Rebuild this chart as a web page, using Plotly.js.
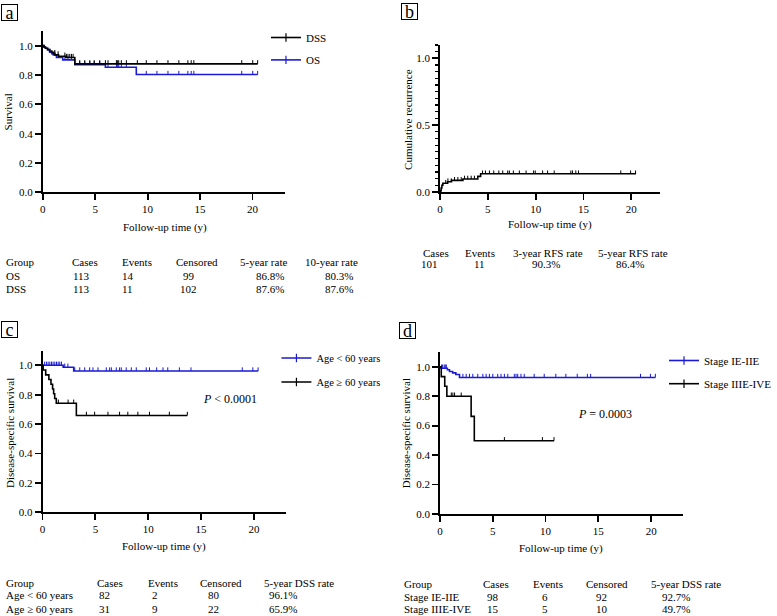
<!DOCTYPE html>
<html><head><meta charset="utf-8">
<script src="https://cdn.plot.ly/plotly-3.0.1.min.js"></script>
<style>html,body{margin:0;padding:0;background:#fff}#chart{width:777px;height:616px}</style>
</head><body><div id="chart"></div>
<script>
// ---------------- DATA ----------------
// Panel a: overall survival and disease-specific survival
const aDssTime = [0, 0.1, 0.25, 0.45, 0.65, 0.85, 1.0, 1.15, 1.5, 2.2, 3.05, 20.5];
const aDssSurv = [1.0, 0.991, 0.982, 0.973, 0.964, 0.955, 0.946, 0.937, 0.928, 0.919, 0.876, 0.876];
const aDssCens = [1.14, 1.46, 2.1, 2.25, 2.4, 2.57, 2.73, 2.89, 3.52, 4.0, 4.48, 4.9, 5.43, 5.97, 6.22, 7.02, 7.11, 7.24, 7.49, 7.97, 9.02, 9.87, 10.89, 11.94, 12.98, 13.84, 14.16, 14.41, 18.98, 20.03, 20.5];
const aOsTime = [0, 0.1, 0.25, 0.45, 0.65, 0.85, 1.0, 1.3, 1.9, 3.05, 5.97, 8.92, 20.5];
const aOsSurv = [1.0, 0.991, 0.982, 0.973, 0.955, 0.946, 0.936, 0.919, 0.903, 0.870, 0.853, 0.803, 0.803];
const aOsCens = [1.14, 1.46, 2.1, 2.4, 2.73, 3.52, 4.0, 4.48, 4.9, 5.43, 6.22, 7.02, 7.11, 7.24, 7.49, 7.97, 9.87, 10.89, 11.94, 12.98, 13.84, 14.16, 14.41, 18.98, 20.03, 20.5];
const aNames = ['DSS', 'OS'];

// Panel b: cumulative recurrence
const bTime = [0, 0.05, 0.12, 0.2, 0.3, 0.8, 1.2, 2.4, 3.95, 4.25, 20.5];
const bCum = [0, 0.01, 0.03, 0.05, 0.065, 0.077, 0.087, 0.097, 0.117, 0.136, 0.136];
const bCens = [0.6, 0.83, 1.18, 1.52, 1.87, 2.22, 2.57, 2.9, 3.26, 3.6, 4.45, 4.75, 5.17, 5.62, 6.15, 6.56, 7.08, 7.25, 7.67, 8.3, 9.0, 9.79, 9.96, 10.73, 11.25, 11.94, 13.68, 13.85, 14.2, 14.48, 18.9, 19.93, 20.45];

// Panel c: DSS by age
const cNames = ['Age &lt; 60 years', 'Age \u2265 60 years'];
const cYoungTime = [0, 1.95, 2.95, 20.4];
const cYoungSurv = [1.0, 0.987, 0.961, 0.961];
const cYoungCens = [0.2, 0.37, 0.53, 0.69, 0.85, 1.0, 1.16, 1.32, 1.48, 1.63, 1.79, 2.1, 2.4, 3.05, 3.52, 3.99, 4.46, 4.77, 5.25, 6.03, 6.35, 6.51, 6.98, 7.29, 7.45, 7.92, 8.4, 8.87, 9.81, 10.12, 10.8, 11.4, 11.85, 12.95, 14.05, 18.9, 19.9, 20.4];
const cOldTime = [0, 0.06, 0.3, 0.6, 0.8, 0.95, 1.05, 1.15, 1.3, 3.2, 13.7];
const cOldSurv = [1.0, 0.968, 0.935, 0.903, 0.871, 0.839, 0.806, 0.774, 0.742, 0.659, 0.659];
const cOldCens = [1.5, 2.42, 2.95, 4.15, 4.93, 6.19, 7.29, 8.07, 9.02, 10.12, 12.0, 13.7];
const cPText = '<i>P</i> &lt; 0.0001';

// Panel d: DSS by stage
const dNames = ['Stage IE-IIE', 'Stage IIIE-IVE'];
const dEarlyTime = [0, 0.1, 0.7, 0.9, 1.2, 1.5, 1.85, 20.4];
const dEarlySurv = [1.0, 0.99, 0.979, 0.968, 0.958, 0.947, 0.927, 0.927];
const dEarlyCens = [0.15, 0.25, 0.4, 0.5, 0.6, 2.17, 2.48, 2.79, 3.11, 3.58, 4.06, 4.37, 4.68, 5.0, 5.47, 5.78, 6.1, 6.42, 7.04, 7.2, 7.36, 7.67, 7.98, 8.92, 9.87, 10.97, 11.92, 13.0, 13.96, 14.27, 18.99, 19.93, 20.4];
const dLateTime = [0, 0.12, 0.45, 0.65, 2.95, 3.25, 10.8];
const dLateSurv = [1.0, 0.933, 0.867, 0.80, 0.663, 0.497, 0.497];
const dLateCens = [1.07, 1.22, 1.38, 2.01, 6.1, 9.7, 10.8];
const dPText = '<i>P</i> = 0.0003';

// Tables
const tabAHeader = ['Group', 'Cases', 'Events', 'Censored', '5-year rate', '10-year rate'];
const tabARows = [['OS', '113', '14', '99', '86.8%', '80.3%'], ['DSS', '113', '11', '102', '87.6%', '87.6%']];
const tabBHeader = ['Cases', 'Events', '3-year RFS rate', '5-year RFS rate'];
const tabBRows = [['101', '11', '90.3%', '86.4%']];
const tabCHeader = ['Group', 'Cases', 'Events', 'Censored', '5-year DSS rate'];
const tabCRows = [['Age &lt; 60 years', '82', '2', '80', '96.1%'], ['Age \u2265 60 years', '31', '9', '22', '65.9%']];
const tabDHeader = ['Group', 'Cases', 'Events', 'Censored', '5-year DSS rate'];
const tabDRows = [['Stage IE-IIE', '98', '6', '92', '92.7%'], ['Stage IIIE-IVE', '15', '5', '10', '49.7%']];

const xTickVals = [0, 5, 10, 15, 20];
const xTitle = 'Follow-up time (y)';

// ---------------- HELPERS ----------------
const W = 777, H = 616;
const FONT = 'Liberation Serif, Times New Roman, serif';
const BLACK = '#000000', BLUE = '#1a1ad6';
const px = v => v / W;
const py = v => 1 - v / H;

function stepAt(times, vals, t) {
  let v = vals[0];
  for (let i = 0; i < times.length; i++) if (times[i] <= t) v = vals[i];
  return v;
}
function kmTrace(times, vals, color, xa, ya) {
  return {type: 'scatter', mode: 'lines', x: times, y: vals, xaxis: xa, yaxis: ya,
    line: {shape: 'hv', color: color, width: 1.6}, showlegend: false, hoverinfo: 'skip'};
}
function censTrace(times, vals, cens, color, xa, ya, h) {
  const xs = [], ys = [];
  cens.forEach(t => { const v = stepAt(times, vals, t); xs.push(t, t, null); ys.push(v, v + h, null); });
  return {type: 'scatter', mode: 'lines', x: xs, y: ys, xaxis: xa, yaxis: ya,
    line: {color: color, width: 1}, showlegend: false, hoverinfo: 'skip'};
}
function legendTrace(name, color, legendId, group) {
  return {type: 'scatter', mode: 'lines+markers', x: [null], y: [null], name: name,
    legend: legendId, legendgroup: group, showlegend: true,
    line: {color: color, width: 1.6},
    marker: {symbol: 'line-ns-open', size: 6, color: color, line: {color: color, width: 1.2}}};
}

const traces = [
  kmTrace(aOsTime, aOsSurv, BLUE, 'x', 'y'),
  censTrace(aOsTime, aOsSurv, aOsCens, BLUE, 'x', 'y', 0.025),
  kmTrace(aDssTime, aDssSurv, BLACK, 'x', 'y'),
  censTrace(aDssTime, aDssSurv, aDssCens, BLACK, 'x', 'y', 0.025),
  kmTrace(bTime, bCum, BLACK, 'x2', 'y2'),
  censTrace(bTime, bCum, bCens, BLACK, 'x2', 'y2', 0.025),
  kmTrace(cYoungTime, cYoungSurv, BLUE, 'x3', 'y3'),
  censTrace(cYoungTime, cYoungSurv, cYoungCens, BLUE, 'x3', 'y3', 0.025),
  kmTrace(cOldTime, cOldSurv, BLACK, 'x3', 'y3'),
  censTrace(cOldTime, cOldSurv, cOldCens, BLACK, 'x3', 'y3', 0.025),
  kmTrace(dEarlyTime, dEarlySurv, BLUE, 'x4', 'y4'),
  censTrace(dEarlyTime, dEarlySurv, dEarlyCens, BLUE, 'x4', 'y4', 0.025),
  kmTrace(dLateTime, dLateSurv, BLACK, 'x4', 'y4'),
  censTrace(dLateTime, dLateSurv, dLateCens, BLACK, 'x4', 'y4', 0.025),
  legendTrace(aNames[0], BLACK, 'legend', 'a1'),
  legendTrace(aNames[1], BLUE, 'legend', 'a2'),
  legendTrace(cNames[0], BLUE, 'legend2', 'c1'),
  legendTrace(cNames[1], BLACK, 'legend2', 'c2'),
  legendTrace(dNames[0], BLUE, 'legend3', 'd1'),
  legendTrace(dNames[1], BLACK, 'legend3', 'd2')
];

const tickFont = {family: FONT, size: 11, color: BLACK};
function xAxis(d0, d1, range, anchor) {
  return {domain: [px(d0), px(d1)], range: range, anchor: anchor, tickvals: xTickVals,
    showline: true, linecolor: BLACK, linewidth: 1.8, ticks: 'outside', ticklen: 6, tickwidth: 1.8,
    tickcolor: BLACK, showgrid: false, zeroline: false, tickfont: tickFont, fixedrange: true};
}
function yAxis(bottom, top, anchor, dtick, minor) {
  const ax = {domain: [py(bottom), py(top)], range: [0, 1.1], anchor: anchor, tick0: 0, dtick: dtick,
    tickformat: '.1f', showline: true, linecolor: BLACK, linewidth: 1.8, ticks: 'outside', ticklen: 6,
    tickwidth: 1.8, tickcolor: BLACK, showgrid: false, zeroline: false, tickfont: tickFont, fixedrange: true};
  if (minor) ax.minor = {tickmode: 'linear', tick0: 0, dtick: 0.05, ticks: 'outside', ticklen: 3.5,
    tickwidth: 1.2, tickcolor: BLACK, showgrid: false};
  return ax;
}

const ann = [];
function txt(text, x, y, opts) {
  ann.push(Object.assign({text: text, xref: 'paper', yref: 'paper', x: px(x), y: py(y),
    xanchor: 'center', yanchor: 'middle', showarrow: false,
    font: {family: FONT, size: 11, color: BLACK}}, opts || {}));
}
// panel letters
[['a', 9.5, 12.5], ['b', 411.3, 12], ['c', 10, 329], ['d', 408.8, 330.8]].forEach(l =>
  txt(l[0], l[1], l[2], {font: {family: FONT, size: 18, color: BLACK}, bordercolor: BLACK, borderwidth: 1,
    borderpad: 0, width: 15, height: 15}));
// axis titles
txt('Survival', 8.5, 112, {textangle: -90});
txt('Cumulative recurrence', 409.5, 119, {textangle: -90});
txt('Disease-specific survival', 9.5, 432.5, {textangle: -90});
txt('Disease-specific survival', 407.3, 433.5, {textangle: -90});
txt(xTitle, 165.7, 227.3);
txt(xTitle, 552.3, 224);
txt(xTitle, 165, 546);
txt(xTitle, 563.3, 548.3);
// p-values
txt(cPText, 230.8, 399.3, {font: {family: FONT, size: 12, color: BLACK}});
txt(dPText, 607, 414.3, {font: {family: FONT, size: 12, color: BLACK}});

// tables: header left positions, value centre positions (first column left-aligned if it is "Group")
function table(header, rows, hX, vX, hY, rY, firstLeft) {
  header.forEach((h, i) => txt(h, hX[i], hY, {xanchor: 'left'}));
  rows.forEach((r, j) => r.forEach((v, i) => {
    if (firstLeft && i === 0) txt(v, hX[0], rY[j], {xanchor: 'left'});
    else txt(v, vX[i], rY[j]);
  }));
}
table(tabAHeader, tabARows, [4, 70, 120.7, 174.3, 239, 304.3], [4, 81.7, 128, 189.5, 270.8, 340.5], 261.7, [275.7, 288.5], true);
table(tabBHeader, tabBRows, [422.7, 465, 513.3, 598.3], [430.8, 481, 548, 632.7], 253.3, [264.3], false);
table(tabCHeader, tabCRows, [4, 95, 146.7, 199, 263.3], [4, 105, 155.5, 214.5, 284], 582.7, [595, 609], true);
table(tabDHeader, tabDRows, [403.3, 483.3, 533.3, 586.7, 651.7], [403.3, 494.7, 546.7, 604, 678.3], 584, [597.3, 609.3], true);

function legendCfg(x, y, size, gap) {
  return {x: px(x), y: py(y), xanchor: 'left', yanchor: 'top', bgcolor: 'rgba(0,0,0,0)', borderwidth: 0,
    font: {family: FONT, size: size, color: BLACK}, tracegroupgap: gap, traceorder: 'grouped'};
}

const layout = {
  width: W, height: H, margin: {l: 0, r: 0, t: 0, b: 0},
  paper_bgcolor: '#fff', plot_bgcolor: '#fff', showlegend: true,
  font: {family: FONT, size: 11, color: BLACK},
  xaxis: xAxis(43, 286, [0, 23.1], 'y'),
  yaxis: yAxis(192.3, 31, 'x', 0.2, false),
  xaxis2: xAxis(441.7, 663, [0, 23.05], 'y2'),
  yaxis2: yAxis(192, 44.9, 'x2', 0.5, true),
  xaxis3: xAxis(42.7, 286.7, [0, 23.0], 'y3'),
  yaxis3: yAxis(512.3, 350.6, 'x3', 0.2, false),
  xaxis4: xAxis(441.7, 686, [0, 23.05], 'y4'),
  yaxis4: yAxis(514, 352, 'x4', 0.2, false),
  legend: legendCfg(267, 23, 11, 3.4),
  legend2: legendCfg(277.5, 343.5, 10.5, 5),
  legend3: legendCfg(667, 346, 11, 4.2),
  annotations: ann
};

Plotly.newPlot('chart', traces, layout, {displayModeBar: false, staticPlot: true});
</script></body></html>
